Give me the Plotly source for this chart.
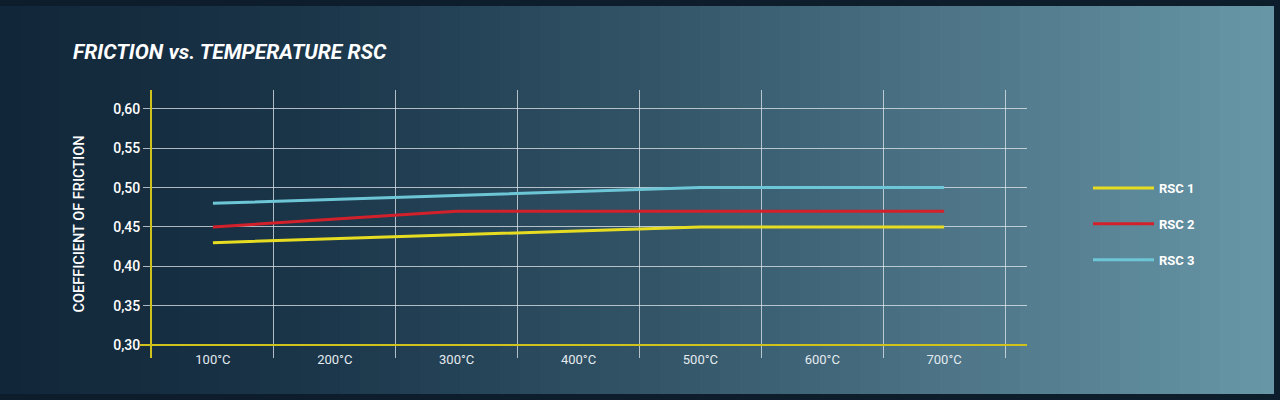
import plotly.graph_objects as go

temperatures = ["100°C", "200°C", "300°C", "400°C", "500°C", "600°C", "700°C"]
rsc1 = [0.430, 0.435, 0.440, 0.445, 0.450, 0.450, 0.450]
rsc2 = [0.450, 0.460, 0.470, 0.470, 0.470, 0.470, 0.470]
rsc3 = [0.480, 0.485, 0.490, 0.495, 0.500, 0.500, 0.500]
series_names = ["RSC 1", "RSC 2", "RSC 3"]
series_colors = ["#e6dc22", "#d3212b", "#6cc6d6"]

W, H = 1280, 400
L, R, T, B = 152, 253, 90, 42
PW, PH = W - L - R, H - T - B

fig = go.Figure()
for name, vals, col in zip(series_names, [rsc1, rsc2, rsc3], series_colors):
    fig.add_trace(go.Scatter(x=temperatures, y=vals, mode="lines", name=name,
                             legendgroup=name,
                             line=dict(color=col, width=3)))

def px2x(px):
    return (px - L) / PW

def px2y(py):
    return (H - B - py) / PH

# background gradient (left dark navy -> right teal grey)
stops = [(0.0, (17, 37, 56)), (0.25, (27, 54, 74)), (0.5, (50, 83, 102)),
         (0.75, (78, 117, 136)), (1.0, (104, 152, 168))]

def interp(t):
    for (t0, c0), (t1, c1) in zip(stops[:-1], stops[1:]):
        if t <= t1:
            f = (t - t0) / (t1 - t0)
            return tuple(int(round(a + (b - a) * f)) for a, b in zip(c0, c1))
    return stops[-1][1]

shapes = []
n = 64
for i in range(n):
    x0 = i * W / n
    x1 = (i + 1) * W / n + 1
    c = interp((i + 0.5) / n)
    shapes.append(dict(type="rect", xref="paper", yref="paper",
                       x0=px2x(x0), x1=px2x(x1), y0=px2y(H), y1=px2y(0),
                       fillcolor="rgb(%d,%d,%d)" % c, line=dict(width=0), layer="below"))
# dark frame
frame = "#0e1d2c"
shapes.append(dict(type="rect", xref="paper", yref="paper", x0=px2x(0), x1=px2x(W),
                   y0=px2y(6), y1=px2y(0), fillcolor=frame, line=dict(width=0), layer="below"))
shapes.append(dict(type="rect", xref="paper", yref="paper", x0=px2x(0), x1=px2x(W),
                   y0=px2y(H), y1=px2y(394), fillcolor=frame, line=dict(width=0), layer="below"))
shapes.append(dict(type="rect", xref="paper", yref="paper", x0=px2x(1274), x1=px2x(W),
                   y0=px2y(H), y1=px2y(0), fillcolor=frame, line=dict(width=0), layer="below"))
# yellow baseline at 0.30
shapes.append(dict(type="line", xref="paper", yref="y", x0=px2x(140), x1=1, y0=0.30, y1=0.30,
                   line=dict(color="#cfc21c", width=2), layer="above"))

fig.update_layout(
    width=W, height=H,
    margin=dict(l=L, r=R, t=T, b=B),
    paper_bgcolor="#1a3347",
    plot_bgcolor="rgba(0,0,0,0)",
    separators=",.",
    font=dict(family="Roboto", color="#ffffff", size=12),
    title=dict(text="FRICTION vs. TEMPERATURE RSC", x=73 / W, xanchor="left",
               y=1 - 52 / H, yanchor="middle",
               font=dict(family="Roboto", size=21, color="#ffffff", weight="bold", style="italic")),
    shapes=shapes,
    showlegend=True,
    legend=dict(x=px2x(1088), y=0.5, xanchor="left", yanchor="middle",
                bgcolor="rgba(0,0,0,0)", tracegroupgap=16, itemwidth=61,
                font=dict(family="Roboto", size=13, color="#ffffff", weight="bold")),
    xaxis=dict(type="category", range=[-0.5, 6.68], tickson="boundaries",
               showgrid=True, gridcolor="rgba(225,232,238,0.75)", gridwidth=1,
               ticks="", showline=False, zeroline=False,
               ticklabelstandoff=-8,
               tickfont=dict(family="Roboto", size=13, color="#e4ebef")),
    yaxis=dict(range=[0.2835, 0.624], tick0=0.30, dtick=0.05, tickformat=".2f",
               showgrid=True, gridcolor="rgba(225,232,238,0.75)", gridwidth=1,
               ticks="outside", ticklen=7, tickcolor="rgba(225,232,238,0.75)",
               showline=True, linecolor="#cfc21c", linewidth=2, zeroline=False,
               tickfont=dict(family="Roboto", size=14, color="#ffffff", weight=500),
               title=dict(text="COEFFICIENT OF FRICTION", standoff=25,
                          font=dict(family="Roboto", size=14.5, color="#ffffff", weight=500))),
)

fig.write_html("out.html", config={"displayModeBar": False},
               post_script="document.body.style.margin='0';")
